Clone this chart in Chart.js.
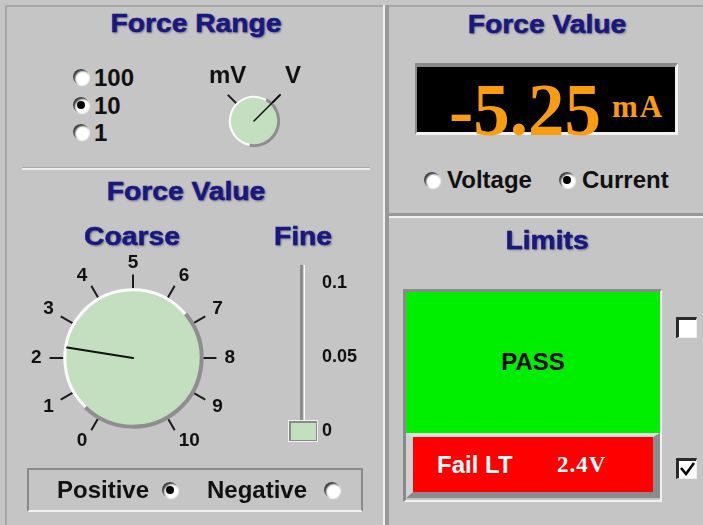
<!DOCTYPE html>
<html><head><meta charset="utf-8">
<script src="https://cdn.jsdelivr.net/npm/chart.js@4.4.1/dist/chart.umd.min.js"></script>
<style>
html,body{margin:0;padding:0;background:#c5c5c5;}
#panel{position:relative;width:703px;height:525px;overflow:hidden;background:#c5c5c5;font-family:"Liberation Sans",Arial,sans-serif;font-weight:bold;color:#111;}
.abs{position:absolute;}
.title{position:absolute;font-family:"Liberation Sans",Arial,sans-serif;font-weight:bold;font-size:25px;line-height:25px;color:#18187f;-webkit-text-stroke:0.5px #18187f;text-shadow:1px 1px 2px rgba(0,0,60,.5);transform:translateX(-50%) scaleX(1.13);white-space:nowrap;}
.lbl{position:absolute;font-size:24px;line-height:24px;white-space:nowrap;}
.radio{position:absolute;width:16px;height:16px;border-radius:50%;background:#fff;box-shadow:inset 2px 2px 2px #3a3a3a,1px 1px 1px #f4f4f4;transform:translate(-50%,-50%);}
.radio.on::after{content:"";position:absolute;left:4px;top:4px;width:8px;height:8px;border-radius:50%;background:#000;}
.wrap{position:absolute;}
.chk{position:absolute;width:21px;height:21px;box-sizing:border-box;background:#fff;border-top:3px solid #2a2a2a;border-left:3px solid #2a2a2a;border-right:1px solid #eee;border-bottom:1px solid #eee;}
</style></head>
<body>
<div id="panel">
  <!-- frame and dividers -->
  <div class="abs" style="left:5px;top:5px;width:698px;height:2px;background:#a6a6a6"></div>
  <div class="abs" style="left:5px;top:5px;width:2px;height:520px;background:#a6a6a6"></div>
  <div class="abs" style="left:383px;top:5px;width:2px;height:520px;background:#f0f0f0"></div>
  <div class="abs" style="left:385px;top:5px;width:4px;height:520px;background:#989898"></div>
  <div class="abs" style="left:389px;top:213px;width:314px;height:3px;background:#989898"></div>
  <div class="abs" style="left:389px;top:216px;width:314px;height:2px;background:#f0f0f0"></div>
  <div class="abs" style="left:22px;top:167px;width:348px;height:1px;background:#a8a8a8"></div>
  <div class="abs" style="left:22px;top:168px;width:348px;height:2px;background:#ececec"></div>

  <!-- LED display -->
  <div class="abs" style="left:415px;top:63px;width:263px;height:72px;box-sizing:border-box;background:#000;border-top:4px solid #8a8a8a;border-left:2px solid #8a8a8a;border-right:3px solid #f2f2f2;border-bottom:3px solid #f2f2f2"></div>

  <!-- Positive / Negative box -->
  <div class="abs" style="left:27px;top:468px;width:336px;height:44px;box-sizing:border-box;border-top:2px solid #8a8a8a;border-left:2px solid #8a8a8a;border-right:2px solid #8a8a8a;border-bottom:2px solid #f0f0f0"></div>

  <!-- Limits box -->
  <div class="abs" style="left:403px;top:289px;width:259px;height:213px;box-sizing:border-box;border-top:3px solid #8a8a8a;border-left:3px solid #8a8a8a;border-right:2px solid #f2f2f2;border-bottom:2px solid #f2f2f2"></div>
  <div class="abs" style="left:406px;top:292px;width:254px;height:141px;background:#00ee00"></div>
  <div class="abs" style="left:406px;top:433px;width:254px;height:65px;box-sizing:border-box;background:#ff0000;border-top:4px solid #dedede;border-left:7px solid #d2d2d2;border-right:7px solid #8c8c8c;border-bottom:6px solid #8c8c8c"></div>

  <div class="wrap" id="wCoarse"><canvas id="cCoarse" width="240" height="240"></canvas></div>
  <div class="wrap" id="wRange"><canvas id="cRange" width="74" height="74"></canvas></div>
  <div class="wrap" id="wFine"><canvas id="cFine" width="98" height="188"></canvas></div>
</div>
<script>
// ---------------- data ----------------
const rangeOptions = ['100', '10', '1'];
const rangeSelected = '10';
const unitLabels = ['mV', 'V'];
const unitSelected = 'V';
const coarseTickLabels = ['0', '1', '2', '3', '4', '5', '6', '7', '8', '9', '10'];
const coarseValue = 2.3;
const fineTicks = [0, 0.05, 0.1];
const fineValue = 0;
const forceValue = -5.25;
const forceUnit = 'mA';
const modeOptions = ['Voltage', 'Current'];
const modeSelected = 'Current';
const polarityOptions = ['Positive', 'Negative'];
const polaritySelected = 'Positive';
const limitStatus = 'PASS';
const limitFailLabel = 'Fail LT';
const limitValue = 2.4;
const limitUnit = 'V';
const limitChecks = [false, true];
const titles = ['Force Range', 'Force Value', 'Force Value', 'Coarse', 'Fine', 'Limits'];

// ---------------- static text / widgets ----------------
const panel = document.getElementById('panel');
function add(html) { const d = document.createElement('div'); d.innerHTML = html; while (d.firstChild) panel.appendChild(d.firstChild); }
function title(t, cx, baseline) { add(`<div class="title" style="left:${cx}px;top:${(baseline - 21.2).toFixed(1)}px">${t}</div>`); }
function lbl(t, x, baseline, size, extra) { size = size || 24; add(`<div class="lbl" style="left:${x}px;top:${(baseline - 0.8465 * size).toFixed(1)}px;font-size:${size}px;line-height:${size}px;${extra || ''}">${t}</div>`); }
function radio(cx, cy, on) { add(`<div class="radio${on ? ' on' : ''}" style="left:${cx}px;top:${cy}px"></div>`); }

title(titles[0], 196, 32);
title(titles[1], 547, 33);
title(titles[2], 186, 200);
title(titles[3], 132, 245);
title(titles[4], 303, 245);
title(titles[5], 547, 249);

const rangeBase = [86, 114, 141];
rangeOptions.forEach((r, i) => { radio(81, rangeBase[i] - 9, r === rangeSelected); lbl(r, 94, rangeBase[i]); });

lbl(unitLabels[0], 209, 83);
lbl(unitLabels[1], 285, 83);

const modeX = [[432, 447], [567, 582]];
modeOptions.forEach((m, i) => { radio(modeX[i][0], 180, m === modeSelected); lbl(m, modeX[i][1], 188); });

const polX = [[57, 170], [207, 332]];
polarityOptions.forEach((p, i) => { lbl(p, polX[i][0], 498); radio(polX[i][1], 490, p === polaritySelected); });

// LED
const ledSize = 73;
add(`<div class="lbl" style="left:449px;top:${(135 - 0.8375 * ledSize).toFixed(1)}px;font-family:'Liberation Serif',serif;font-size:${ledSize}px;line-height:${ledSize}px;color:#f99c10">${forceValue.toFixed(2)}</div>`);
add(`<div class="lbl" style="left:612px;top:${(117 - 0.8375 * 31).toFixed(1)}px;font-family:'Liberation Serif',serif;font-size:31px;line-height:31px;letter-spacing:2px;color:#f99c10">${forceUnit}</div>`);

// Limits
add(`<div class="lbl" style="left:406px;width:254px;text-align:center;top:${(370 - 0.8465 * 24).toFixed(1)}px;color:#0a0a0a">${limitStatus}</div>`);
lbl(limitFailLabel, 437, 473, 24, 'color:#fff');
add(`<div class="lbl" style="left:557px;top:${(472 - 0.8375 * 23).toFixed(1)}px;font-family:'Liberation Serif',serif;font-size:23px;line-height:23px;letter-spacing:1px;color:#fff">${limitValue.toFixed(1)}${limitUnit}</div>`);
const chkY = [317, 458];
limitChecks.forEach((c, i) => add(`<div class="chk" style="left:676px;top:${chkY[i]}px">${c ? '<svg width="17" height="17" style="position:absolute;left:0;top:0"><polyline points="2,7 7,13 15,2" stroke="#000" stroke-width="2.6" fill="none"/></svg>' : ''}</div>`));

// ---------------- charts ----------------
Chart.defaults.font.family = "'Liberation Sans', Arial, sans-serif";
Chart.defaults.animation = false;
Chart.defaults.plugins.legend.display = false;
Chart.defaults.plugins.tooltip.enabled = false;

const knobPlugin = {
  id: 'knob',
  beforeDatasetsDraw(chart, args, o) {
    const s = chart.scales.r, ctx = chart.ctx;
    const cx = s.xCenter, cy = s.yCenter, R = s.drawingArea * o.body;
    const a1 = o.hiStart * Math.PI / 180, a2 = o.hiEnd * Math.PI / 180;
    ctx.save();
    ctx.beginPath(); ctx.arc(cx, cy, R, 0, Math.PI * 2); ctx.fillStyle = o.fill; ctx.fill();
    ctx.lineWidth = o.rim;
    ctx.strokeStyle = '#fbfbfb'; ctx.beginPath(); ctx.arc(cx, cy, R - o.rim / 2, a1, a2); ctx.stroke();
    ctx.lineWidth = o.rim + 1;
    ctx.strokeStyle = '#8e8e8e'; ctx.beginPath(); ctx.arc(cx, cy, R - o.rim / 2 + 0.5, a2, a1); ctx.stroke();
    const tip = s.getPointPosition(o.value, s.drawingArea * o.needle);
    ctx.strokeStyle = '#111'; ctx.lineWidth = o.needleWidth; ctx.lineCap = 'round';
    ctx.beginPath(); ctx.moveTo(cx, cy); ctx.lineTo(tip.x, tip.y); ctx.stroke();
    ctx.restore();
  }
};

function knobChart(id, labels, nTicks, startAngle, showLabels, pad, knobOpts) {
  return new Chart(document.getElementById(id), {
    type: 'radar',
    data: { labels: labels, datasets: [{ data: labels.map(() => null), pointRadius: 0, borderWidth: 0 }] },
    options: {
      responsive: false,
      layout: { padding: pad },
      scales: { r: {
        startAngle: startAngle, min: 0, max: 1,
        ticks: { display: false },
        grid: { display: false },
        angleLines: { display: true, lineWidth: 2, color: c => c.index < nTicks ? '#1a1a1a' : 'rgba(0,0,0,0)' },
        pointLabels: { display: showLabels, padding: 8, color: '#111', font: { size: 19, weight: 'bold', lineHeight: 0.35 } }
      } },
      plugins: { knob: knobOpts }
    },
    plugins: [knobPlugin]
  });
}

function placeRadial(wrapId, chart, tx, ty) {
  const s = chart.scales.r, w = document.getElementById(wrapId);
  w.style.left = (tx - s.xCenter) + 'px';
  w.style.top = (ty - s.yCenter) + 'px';
}

// Coarse knob: 11 ticks at 30 degree steps, blank slot covers the gap
const coarseSlots = coarseTickLabels.concat(['']);
const coarse = knobChart('cCoarse', coarseSlots, coarseTickLabels.length, -150, true, 18,
  { value: coarseValue, body: 0.835, needle: 0.8, fill: '#c3dfc0', rim: 3, hiStart: 134, hiEnd: 320, needleWidth: 2 });
placeRadial('wCoarse', coarse, 133, 358);

// Range knob
const rangeSlots = unitLabels.concat(['', '']);
const rangeKnob = knobChart('cRange', rangeSlots, unitLabels.length, -45, false, 0,
  { value: unitLabels.indexOf(unitSelected), body: 0.68, needle: 1.0, fill: '#c3dfc0', rim: 2, hiStart: 100, hiEnd: 300, needleWidth: 1.5 });
placeRadial('wRange', rangeKnob, 254, 121);

// Fine slider
const thumb = document.createElement('canvas');
thumb.width = 30; thumb.height = 22;
(function () {
  const t = thumb.getContext('2d');
  t.fillStyle = '#f2f2f2'; t.fillRect(0, 0, 30, 22);
  t.fillStyle = '#8a8a8a'; t.fillRect(1, 1, 28, 20);
  t.fillStyle = '#c3dfc0'; t.fillRect(3, 3, 25, 17);
})();

const trackPlugin = {
  id: 'track',
  beforeDatasetsDraw(chart) {
    const x = chart.scales.x.getPixelForValue(0), ys = chart.scales.y;
    const top = ys.getPixelForValue(ys.max) - 18, bot = ys.getPixelForValue(ys.min) - 8;
    const ctx = chart.ctx;
    ctx.save();
    ctx.fillStyle = '#8d8d8d'; ctx.fillRect(x - 3, top, 3.5, bot - top);
    ctx.fillStyle = '#fbfbfb'; ctx.fillRect(x + 0.5, top, 1.5, bot - top);
    ctx.restore();
  }
};

const fine = new Chart(document.getElementById('cFine'), {
  type: 'scatter',
  data: { datasets: [{ data: [{ x: 0, y: fineValue }], pointStyle: thumb, pointRadius: 12, clip: false }] },
  options: {
    responsive: false,
    layout: { padding: { top: 20, bottom: 20, left: 18, right: 0 } },
    scales: {
      x: { type: 'linear', min: -1, max: 1, display: false },
      y: {
        type: 'linear', position: 'right', min: fineTicks[0], max: fineTicks[fineTicks.length - 1],
        afterBuildTicks: s => { s.ticks = fineTicks.map(v => ({ value: v })); },
        afterFit: s => { s.width = 50; },
        grid: { display: false, drawTicks: false },
        border: { display: false },
        ticks: { padding: 4, color: '#111', font: { size: 18, weight: 'bold' }, callback: v => String(v) }
      }
    }
  },
  plugins: [trackPlugin]
});
(function () {
  const w = document.getElementById('wFine');
  w.style.left = (303 - fine.scales.x.getPixelForValue(0)) + 'px';
  w.style.top = (283 - fine.scales.y.getPixelForValue(fineTicks[fineTicks.length - 1])) + 'px';
})();
</script>
</body></html>
